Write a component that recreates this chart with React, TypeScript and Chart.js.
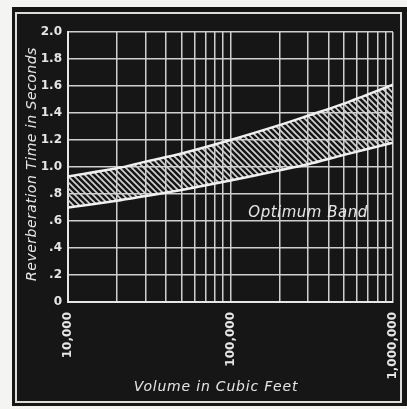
import React, { useEffect, useRef } from "react";
import { Chart, registerables } from "chart.js";
Chart.register(...registerables);

// ---- data ----
const volumes = [10000, 20000, 30000, 50000, 100000, 200000, 300000, 500000, 1000000];
const upperLimit = [0.93, 0.99, 1.04, 1.1, 1.2, 1.31, 1.38, 1.47, 1.61];
const lowerLimit = [0.7, 0.75, 0.785, 0.83, 0.9, 0.975, 1.02, 1.09, 1.18];
const xMajorTicks = [10000, 100000, 1000000];
const xMajorLabels = ["10,000", "100,000", "1,000,000"];
const yTickLabels = ["0", ".2", ".4", ".6", ".8", "1.0", "1.2", "1.4", "1.6", "1.8", "2.0"];
const xTitle = "Volume in Cubic Feet";
const yTitle = "Reverberation Time in Seconds";
const bandLabel = "Optimum Band";
const bandLabelAt = [300000, 0.66];

// log grid: 1..9 x each decade
const xGridTicks: number[] = [];
for (let d = 10000; d < 1000000; d *= 10) {
  for (let k = 1; k < 10; k++) xGridTicks.push(k * d);
}
xGridTicks.push(1000000);

const INK = "#e6e6e6";

function makeHatch(): CanvasPattern | string {
  const c = document.createElement("canvas");
  const s = 6;
  c.width = s;
  c.height = s;
  const g = c.getContext("2d");
  if (!g) return "rgba(220,220,220,0.4)";
  g.strokeStyle = "#d4d4d4";
  g.lineWidth = 1.6;
  g.beginPath();
  g.moveTo(-1, -1);
  g.lineTo(s + 1, s + 1);
  g.moveTo(-1, s - 1);
  g.lineTo(1, s + 1);
  g.moveTo(s - 1, -1);
  g.lineTo(s + 1, 1);
  g.stroke();
  const p = g.createPattern(c, "repeat");
  return p || "rgba(220,220,220,0.4)";
}

const textPlugin = {
  id: "chartTexts",
  afterDatasetsDraw(chart: any) {
    const { ctx, chartArea, scales } = chart;
    ctx.save();
    ctx.fillStyle = INK;
    ctx.textAlign = "center";
    ctx.textBaseline = "middle";
    // band label
    ctx.font = 'italic 15px "DejaVu Sans"';
    (ctx as any).letterSpacing = "0.5px";
    ctx.fillText(
      bandLabel,
      scales.x.getPixelForValue(bandLabelAt[0]),
      scales.y.getPixelForValue(bandLabelAt[1])
    );
    // x title
    ctx.font = 'italic 14px "DejaVu Sans"';
    (ctx as any).letterSpacing = "0.8px";
    ctx.fillText(xTitle, chartArea.left + 148, chartArea.bottom + 85);
    // y title
    (ctx as any).letterSpacing = "0.5px";
    ctx.translate(32, (chartArea.top + chartArea.bottom) / 2 - 3);
    ctx.rotate(-Math.PI / 2);
    ctx.fillText(yTitle, 0, 0);
    ctx.restore();
  },
};

export default function App() {
  const ref = useRef<HTMLCanvasElement | null>(null);

  useEffect(() => {
    if (!ref.current) return;
    const hatch = makeHatch();
    const chart = new Chart(ref.current, {
      type: "line",
      data: {
        datasets: [
          {
            label: "Lower limit",
            data: volumes.map((v, i) => ({ x: v, y: lowerLimit[i] })),
            borderColor: "#f0f0f0",
            borderWidth: 2.5,
            pointRadius: 0,
            tension: 0.3,
            fill: false,
          },
          {
            label: "Upper limit",
            data: volumes.map((v, i) => ({ x: v, y: upperLimit[i] })),
            borderColor: "#f0f0f0",
            borderWidth: 2.5,
            pointRadius: 0,
            tension: 0.3,
            fill: "-1",
            backgroundColor: hatch as any,
          },
        ],
      },
      options: {
        responsive: false,
        animation: false,
        devicePixelRatio: 1,
        layout: { padding: { top: 32, right: 14, left: 0, bottom: 0 } },
        plugins: {
          legend: { display: false },
          tooltip: { enabled: false },
        },
        scales: {
          x: {
            type: "logarithmic",
            min: 10000,
            max: 1000000,
            afterBuildTicks: (scale: any) => {
              scale.ticks = xGridTicks.map((v) => ({ value: v }));
            },
            afterFit: (scale: any) => {
              scale.height = 107;
              scale.paddingLeft = 0;
              scale.paddingRight = 0;
            },
            ticks: {
              autoSkip: false,
              minRotation: 90,
              maxRotation: 90,
              padding: 10,
              color: INK,
              font: { family: '"DejaVu Sans"', size: 12, weight: "bold" },
              callback: (value: any) => {
                const i = xMajorTicks.indexOf(Number(value));
                return i >= 0 ? xMajorLabels[i] : "";
              },
            },
            grid: {
              color: "#cfcfcf",
              lineWidth: 1.5,
              drawTicks: false,
            },
            border: { display: true, color: "#e6e6e6", width: 2 },
          },
          y: {
            min: 0,
            max: 2,
            afterFit: (scale: any) => {
              scale.width = 68;
              scale.paddingTop = 0;
              scale.paddingBottom = 0;
            },
            ticks: {
              stepSize: 0.2,
              padding: 6,
              color: INK,
              font: { family: '"DejaVu Sans"', size: 12, weight: "bold" },
              callback: (_v: any, index: number) => yTickLabels[index] ?? "",
            },
            grid: {
              color: "#cfcfcf",
              lineWidth: 1.5,
              drawTicks: false,
            },
            border: { display: true, color: "#e6e6e6", width: 2 },
          },
        },
      },
      plugins: [textPlugin],
    });
    return () => chart.destroy();
  }, []);

  return (
    <div
      style={{
        position: "absolute",
        left: 0,
        top: 0,
        width: 407,
        height: 409,
        background: "#f4f4f2",
        overflow: "hidden",
      }}
    >
      <div
        style={{
          position: "absolute",
          left: 12,
          top: 7,
          width: 395,
          height: 399,
          background: "#161616",
        }}
      />
      <div
        style={{
          position: "absolute",
          left: 15,
          top: 12,
          width: 387,
          height: 391,
          border: "2px solid #dcdcdc",
          boxSizing: "border-box",
        }}
      />
      <canvas
        ref={ref}
        width={407}
        height={409}
        style={{ position: "absolute", left: 0, top: 0, width: 407, height: 409 }}
      />
    </div>
  );
}
